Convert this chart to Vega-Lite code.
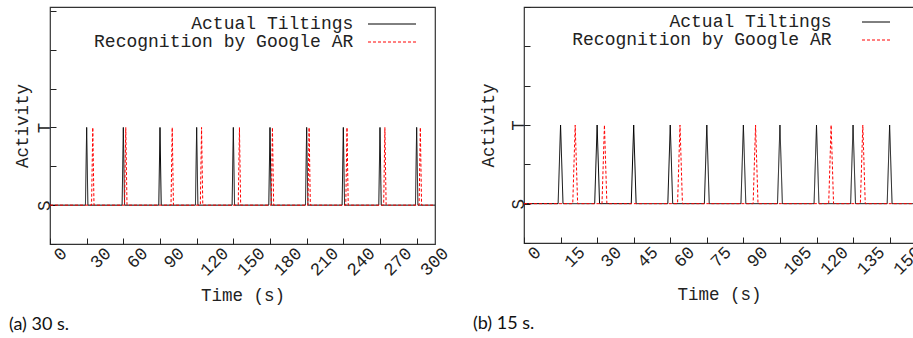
{
  "$schema": "https://vega.github.io/schema/vega-lite/v6.json",
  "padding": {"left": 8, "top": 5, "right": 0, "bottom": 0},
  "spacing": 20,
  "background": "white",
  "config": {
    "view": {"stroke": "#333333", "strokeWidth": 1.2},
    "font": "Liberation Mono",
    "axis": {
      "labelFont": "Liberation Mono", "labelFontSize": 17.5, "labelColor": "#222222",
      "titleFont": "Liberation Mono", "titleFontSize": 17.5, "titleFontWeight": "normal", "titleColor": "#222222",
      "domain": false, "grid": false, "tickColor": "#222222", "tickSize": -6, "tickWidth": 1
    },
    "title": {"font": "Lato", "fontSize": 18, "fontWeight": "normal", "color": "#111111", "orient": "bottom", "anchor": "start", "offset": 12}
  },
  "datasets": {
    "a": [
      {"series": "Actual Tiltings", "time": 0, "activity": 0},
      {"series": "Actual Tiltings", "time": 29, "activity": 0},
      {"series": "Actual Tiltings", "time": 30, "activity": 2},
      {"series": "Actual Tiltings", "time": 31, "activity": 0},
      {"series": "Actual Tiltings", "time": 59, "activity": 0},
      {"series": "Actual Tiltings", "time": 60, "activity": 2},
      {"series": "Actual Tiltings", "time": 61, "activity": 0},
      {"series": "Actual Tiltings", "time": 89, "activity": 0},
      {"series": "Actual Tiltings", "time": 90, "activity": 2},
      {"series": "Actual Tiltings", "time": 91, "activity": 0},
      {"series": "Actual Tiltings", "time": 119, "activity": 0},
      {"series": "Actual Tiltings", "time": 120, "activity": 2},
      {"series": "Actual Tiltings", "time": 121, "activity": 0},
      {"series": "Actual Tiltings", "time": 149, "activity": 0},
      {"series": "Actual Tiltings", "time": 150, "activity": 2},
      {"series": "Actual Tiltings", "time": 151, "activity": 0},
      {"series": "Actual Tiltings", "time": 179, "activity": 0},
      {"series": "Actual Tiltings", "time": 180, "activity": 2},
      {"series": "Actual Tiltings", "time": 181, "activity": 0},
      {"series": "Actual Tiltings", "time": 209, "activity": 0},
      {"series": "Actual Tiltings", "time": 210, "activity": 2},
      {"series": "Actual Tiltings", "time": 211, "activity": 0},
      {"series": "Actual Tiltings", "time": 239, "activity": 0},
      {"series": "Actual Tiltings", "time": 240, "activity": 2},
      {"series": "Actual Tiltings", "time": 241, "activity": 0},
      {"series": "Actual Tiltings", "time": 269, "activity": 0},
      {"series": "Actual Tiltings", "time": 270, "activity": 2},
      {"series": "Actual Tiltings", "time": 271, "activity": 0},
      {"series": "Actual Tiltings", "time": 299, "activity": 0},
      {"series": "Actual Tiltings", "time": 300, "activity": 2},
      {"series": "Actual Tiltings", "time": 301, "activity": 0},
      {"series": "Actual Tiltings", "time": 315, "activity": 0},
      {"series": "Recognition by Google AR", "time": 0, "activity": 0},
      {"series": "Recognition by Google AR", "time": 34, "activity": 0},
      {"series": "Recognition by Google AR", "time": 35, "activity": 2},
      {"series": "Recognition by Google AR", "time": 36, "activity": 0},
      {"series": "Recognition by Google AR", "time": 61, "activity": 0},
      {"series": "Recognition by Google AR", "time": 62, "activity": 2},
      {"series": "Recognition by Google AR", "time": 63, "activity": 0},
      {"series": "Recognition by Google AR", "time": 99, "activity": 0},
      {"series": "Recognition by Google AR", "time": 100, "activity": 2},
      {"series": "Recognition by Google AR", "time": 101, "activity": 0},
      {"series": "Recognition by Google AR", "time": 123, "activity": 0},
      {"series": "Recognition by Google AR", "time": 124, "activity": 2},
      {"series": "Recognition by Google AR", "time": 125, "activity": 0},
      {"series": "Recognition by Google AR", "time": 154, "activity": 0},
      {"series": "Recognition by Google AR", "time": 155, "activity": 2},
      {"series": "Recognition by Google AR", "time": 156, "activity": 0},
      {"series": "Recognition by Google AR", "time": 181, "activity": 0},
      {"series": "Recognition by Google AR", "time": 182, "activity": 2},
      {"series": "Recognition by Google AR", "time": 183, "activity": 0},
      {"series": "Recognition by Google AR", "time": 211, "activity": 0},
      {"series": "Recognition by Google AR", "time": 212, "activity": 2},
      {"series": "Recognition by Google AR", "time": 213, "activity": 0},
      {"series": "Recognition by Google AR", "time": 242, "activity": 0},
      {"series": "Recognition by Google AR", "time": 243, "activity": 2},
      {"series": "Recognition by Google AR", "time": 244, "activity": 0},
      {"series": "Recognition by Google AR", "time": 273, "activity": 0},
      {"series": "Recognition by Google AR", "time": 274, "activity": 2},
      {"series": "Recognition by Google AR", "time": 275, "activity": 0},
      {"series": "Recognition by Google AR", "time": 302, "activity": 0},
      {"series": "Recognition by Google AR", "time": 303, "activity": 2},
      {"series": "Recognition by Google AR", "time": 304, "activity": 0},
      {"series": "Recognition by Google AR", "time": 315, "activity": 0}
    ],
    "b": [
      {"series": "Actual Tiltings", "time": 0, "activity": 0},
      {"series": "Actual Tiltings", "time": 14, "activity": 0},
      {"series": "Actual Tiltings", "time": 15, "activity": 2},
      {"series": "Actual Tiltings", "time": 16, "activity": 0},
      {"series": "Actual Tiltings", "time": 29, "activity": 0},
      {"series": "Actual Tiltings", "time": 30, "activity": 2},
      {"series": "Actual Tiltings", "time": 31, "activity": 0},
      {"series": "Actual Tiltings", "time": 44, "activity": 0},
      {"series": "Actual Tiltings", "time": 45, "activity": 2},
      {"series": "Actual Tiltings", "time": 46, "activity": 0},
      {"series": "Actual Tiltings", "time": 59, "activity": 0},
      {"series": "Actual Tiltings", "time": 60, "activity": 2},
      {"series": "Actual Tiltings", "time": 61, "activity": 0},
      {"series": "Actual Tiltings", "time": 74, "activity": 0},
      {"series": "Actual Tiltings", "time": 75, "activity": 2},
      {"series": "Actual Tiltings", "time": 76, "activity": 0},
      {"series": "Actual Tiltings", "time": 89, "activity": 0},
      {"series": "Actual Tiltings", "time": 90, "activity": 2},
      {"series": "Actual Tiltings", "time": 91, "activity": 0},
      {"series": "Actual Tiltings", "time": 104, "activity": 0},
      {"series": "Actual Tiltings", "time": 105, "activity": 2},
      {"series": "Actual Tiltings", "time": 106, "activity": 0},
      {"series": "Actual Tiltings", "time": 119, "activity": 0},
      {"series": "Actual Tiltings", "time": 120, "activity": 2},
      {"series": "Actual Tiltings", "time": 121, "activity": 0},
      {"series": "Actual Tiltings", "time": 134, "activity": 0},
      {"series": "Actual Tiltings", "time": 135, "activity": 2},
      {"series": "Actual Tiltings", "time": 136, "activity": 0},
      {"series": "Actual Tiltings", "time": 149, "activity": 0},
      {"series": "Actual Tiltings", "time": 150, "activity": 2},
      {"series": "Actual Tiltings", "time": 151, "activity": 0},
      {"series": "Actual Tiltings", "time": 160, "activity": 0},
      {"series": "Recognition by Google AR", "time": 0, "activity": 0},
      {"series": "Recognition by Google AR", "time": 20, "activity": 0},
      {"series": "Recognition by Google AR", "time": 21, "activity": 2},
      {"series": "Recognition by Google AR", "time": 22, "activity": 0},
      {"series": "Recognition by Google AR", "time": 32, "activity": 0},
      {"series": "Recognition by Google AR", "time": 33, "activity": 2},
      {"series": "Recognition by Google AR", "time": 34, "activity": 0},
      {"series": "Recognition by Google AR", "time": 63, "activity": 0},
      {"series": "Recognition by Google AR", "time": 64, "activity": 2},
      {"series": "Recognition by Google AR", "time": 65, "activity": 0},
      {"series": "Recognition by Google AR", "time": 94, "activity": 0},
      {"series": "Recognition by Google AR", "time": 95, "activity": 2},
      {"series": "Recognition by Google AR", "time": 96, "activity": 0},
      {"series": "Recognition by Google AR", "time": 125, "activity": 0},
      {"series": "Recognition by Google AR", "time": 126, "activity": 2},
      {"series": "Recognition by Google AR", "time": 127, "activity": 0},
      {"series": "Recognition by Google AR", "time": 138, "activity": 0},
      {"series": "Recognition by Google AR", "time": 139, "activity": 2},
      {"series": "Recognition by Google AR", "time": 140, "activity": 0},
      {"series": "Recognition by Google AR", "time": 160, "activity": 0}
    ]
  },
  "resolve": {
    "scale": {"x": "independent", "y": "independent", "color": "independent", "strokeDash": "independent"},
    "legend": {"color": "independent", "strokeDash": "independent"}
  },
  "hconcat": [
    {
      "width": 385,
      "height": 237,
      "title": {"text": "(a) 30 s.", "dx": -4},
      "data": {"name": "a"},
      "mark": {"type": "line", "strokeWidth": 1, "clip": true},
      "encoding": {
        "x": {
          "field": "time", "type": "quantitative",
          "scale": {"domain": [0, 315], "nice": false, "zero": false},
          "axis": {
            "title": "Time (s)", "values": [0, 30, 60, 90, 120, 150, 180, 210, 240, 270, 300],
            "labelAngle": -45, "labelAlign": "left", "labelBaseline": "top", "labelPadding": 6,
            "labelOverlap": false, "labelFlush": false, "labelBound": false, "titlePadding": 8,
            "encoding": {"labels": {"dx": {"value": {"expr": "-5.25*length(datum.label)"}}, "dy": {"value": {"expr": "5.25*length(datum.label)"}}}}
          }
        },
        "y": {
          "field": "activity", "type": "quantitative",
          "scale": {"domain": [-1, 5.1], "nice": false, "zero": false},
          "axis": {
            "title": "Activity", "values": [-1, 0, 1, 2, 3, 4, 5],
            "labelExpr": "datum.value == 0 ? 'S' : datum.value == 2 ? 'T' : ''",
            "labelAngle": -90, "labelAlign": "center", "labelBaseline": "alphabetic", "labelPadding": 7,
            "labelOverlap": false, "labelFlush": false, "titlePadding": 4
          }
        },
        "color": {
          "field": "series", "type": "nominal",
          "scale": {"domain": ["Actual Tiltings", "Recognition by Google AR"], "range": ["#000000", "#ff0000"]},
          "legend": {"title": null, "orient": "none", "legendX": 333, "legendY": 8, "symbolType": "M-4,0H4", "symbolSize": 144, "symbolStrokeWidth": 1, "labelAlign": "right", "labelOffset": -47.7, "labelFont": "Liberation Mono", "labelFontSize": 18, "labelColor": "#222222", "labelLimit": 500, "rowPadding": 0, "padding": 0, "labelBaseline": "middle"}
        },
        "strokeDash": {
          "field": "series", "type": "nominal",
          "scale": {"domain": ["Actual Tiltings", "Recognition by Google AR"], "range": [[1, 0], [3, 2]]},
          "legend": {"title": null, "orient": "none", "legendX": 333, "legendY": 8, "symbolType": "M-4,0H4", "symbolSize": 144, "symbolStrokeWidth": 1, "labelAlign": "right", "labelOffset": -47.7, "labelFont": "Liberation Mono", "labelFontSize": 18, "labelColor": "#222222", "labelLimit": 500, "rowPadding": 0, "padding": 0, "labelBaseline": "middle"}
        }
      }
    },
    {
      "width": 390,
      "height": 236,
      "title": {"text": "(b) 15 s.", "dx": -6},
      "data": {"name": "b"},
      "mark": {"type": "line", "strokeWidth": 1, "clip": true},
      "encoding": {
        "x": {
          "field": "time", "type": "quantitative",
          "scale": {"domain": [0, 160], "nice": false, "zero": false},
          "axis": {
            "title": "Time (s)", "values": [0, 15, 30, 45, 60, 75, 90, 105, 120, 135, 150],
            "labelAngle": -45, "labelAlign": "left", "labelBaseline": "top", "labelPadding": 6,
            "labelOverlap": false, "labelFlush": false, "labelBound": false, "titlePadding": 8,
            "encoding": {"labels": {"dx": {"value": {"expr": "-5.25*length(datum.label)"}}, "dy": {"value": {"expr": "5.25*length(datum.label)"}}}}
          }
        },
        "y": {
          "field": "activity", "type": "quantitative",
          "scale": {"domain": [-1, 5], "nice": false, "zero": false},
          "axis": {
            "title": "Activity", "values": [-1, 0, 1, 2, 3, 4, 5],
            "labelExpr": "datum.value == 0 ? 'S' : datum.value == 2 ? 'T' : ''",
            "labelAngle": -90, "labelAlign": "center", "labelBaseline": "alphabetic", "labelPadding": 7,
            "labelOverlap": false, "labelFlush": false, "titlePadding": 12
          }
        },
        "color": {
          "field": "series", "type": "nominal",
          "scale": {"domain": ["Actual Tiltings", "Recognition by Google AR"], "range": ["#000000", "#ff0000"]},
          "legend": {"title": null, "orient": "none", "legendX": 343, "legendY": 6, "symbolType": "M-4,0H4", "symbolSize": 49, "symbolStrokeWidth": 1, "labelAlign": "right", "labelOffset": -53.5, "labelFont": "Liberation Mono", "labelFontSize": 18, "labelColor": "#222222", "labelLimit": 500, "rowPadding": 0, "padding": 0, "labelBaseline": "middle"}
        },
        "strokeDash": {
          "field": "series", "type": "nominal",
          "scale": {"domain": ["Actual Tiltings", "Recognition by Google AR"], "range": [[1, 0], [3, 2]]},
          "legend": {"title": null, "orient": "none", "legendX": 343, "legendY": 6, "symbolType": "M-4,0H4", "symbolSize": 49, "symbolStrokeWidth": 1, "labelAlign": "right", "labelOffset": -53.5, "labelFont": "Liberation Mono", "labelFontSize": 18, "labelColor": "#222222", "labelLimit": 500, "rowPadding": 0, "padding": 0, "labelBaseline": "middle"}
        }
      }
    }
  ]
}
